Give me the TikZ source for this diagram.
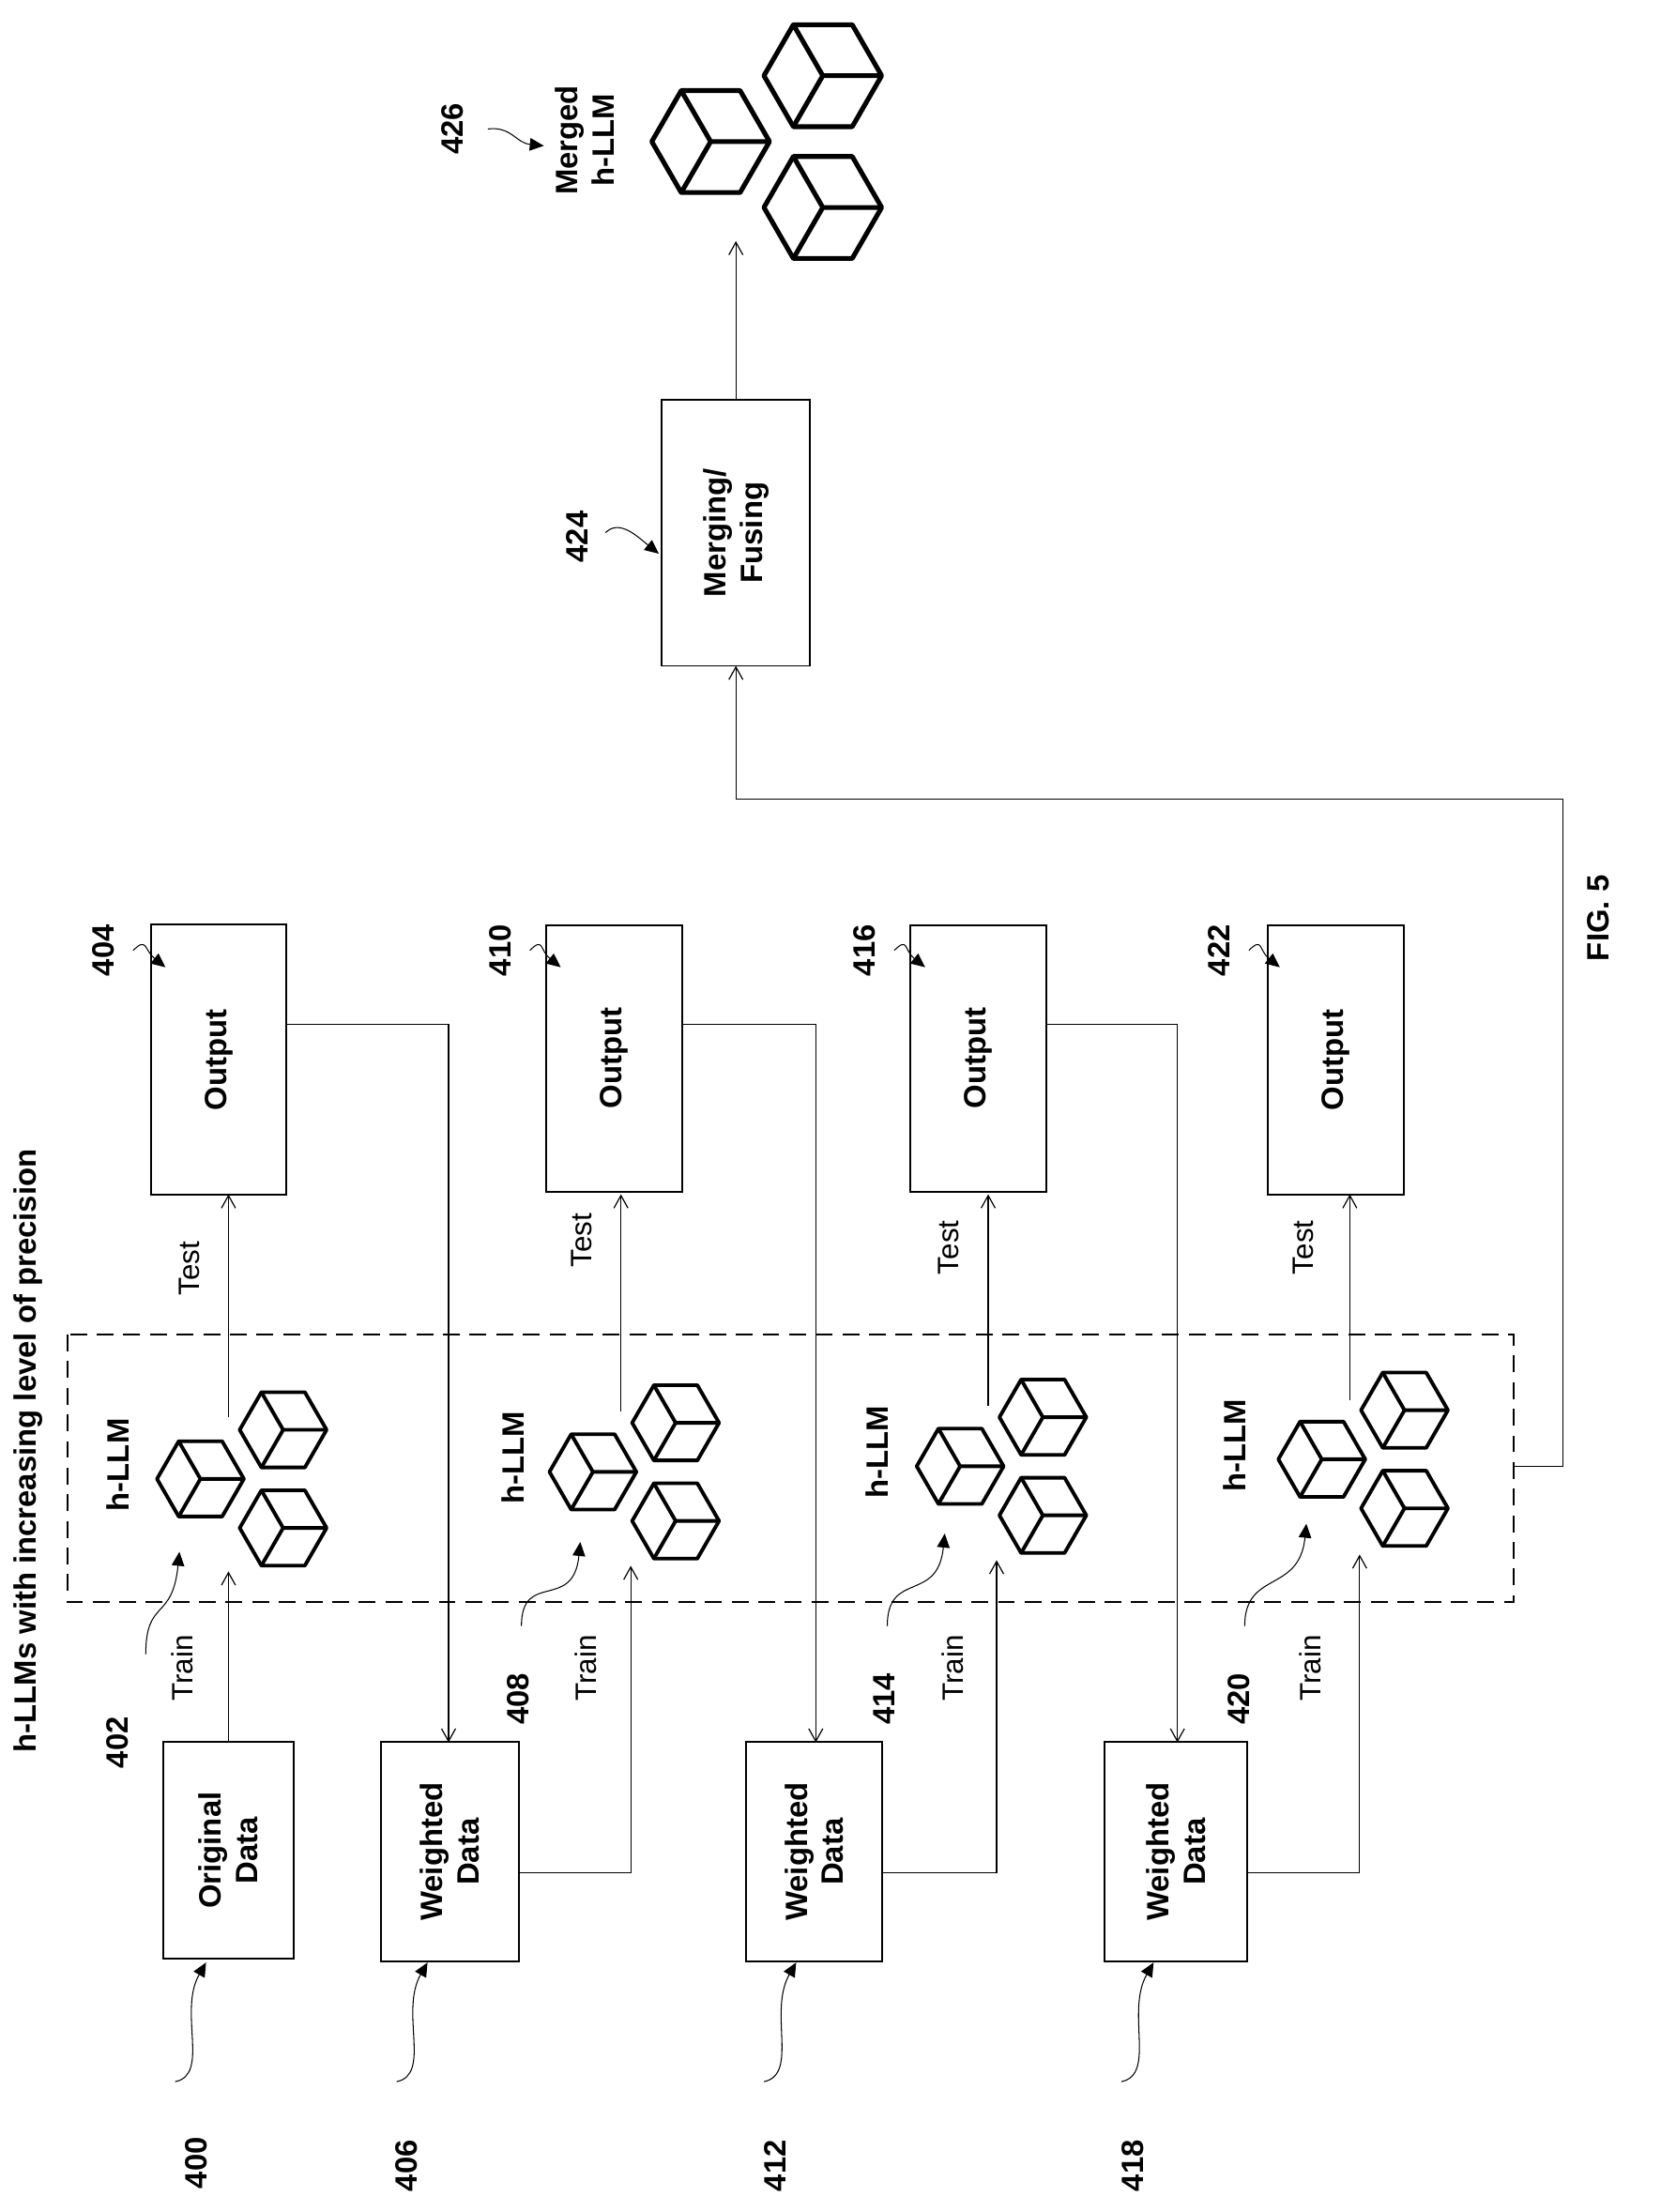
\documentclass[tikz,border=0pt]{standalone}
\usepackage{fontspec}
\setmainfont{Liberation Sans}
\usetikzlibrary{arrows.meta,positioning}
\tikzset{
  blk/.style={draw, line width=1.3pt, rotate=90, font=\fontsize{22}{26}\selectfont\bfseries, align=center, inner sep=0pt},
  num/.style={rotate=90, font=\fontsize{22}{26}\selectfont\bfseries},
  lbl/.style={rotate=90, font=\fontsize{21}{25}\selectfont},
  flow/.style={line width=0.8pt, -{Straight Barb[length=9pt,width=10pt]}},
  ref/.style={line width=0.7pt, -{Triangle[length=10pt,width=9pt]}},
  cube/.pic={
    \draw[line width=\pgfkeysvalueof{/tikz/cubelw}, line join=round] (0:1) -- (60:1) -- (120:1) -- (180:1) -- (240:1) -- (300:1) -- cycle;
    \draw[line width=\pgfkeysvalueof{/tikz/cubelw}] (0,0) -- (0:1) (0,0) -- (120:1) (0,0) -- (240:1);
  },
  cubelw/.initial=2.6pt
}
\begin{document}
\begin{tikzpicture}[x=1pt,y=-1pt]
\useasboundingbox (0,0) rectangle (1185,1578);
\node[num] (title) at (20,1035) {h-LLMs with increasing level of precision};
% dashed group
\draw[line width=1.5pt, dash pattern=on 12pt off 7pt] (48,952) rectangle (1080,1143);
% data boxes
\node[blk, minimum width=155pt, minimum height=93pt] (d0) at (163,1320) {Original\\Data};
\node[blk, minimum width=157pt, minimum height=98pt] (d1) at (321,1321) {Weighted\\Data};
\node[blk, minimum width=157pt, minimum height=97pt] (d2) at (581,1321) {Weighted\\Data};
\node[blk, minimum width=157pt, minimum height=102pt] (d3) at (839,1321) {Weighted\\Data};
% output boxes
\node[blk, minimum width=193pt, minimum height=97pt] (o0) at (156,756) {Output};
\node[blk, minimum width=190pt, minimum height=97pt] (o1) at (438,755) {Output};
\node[blk, minimum width=190pt, minimum height=97pt] (o2) at (698,755) {Output};
\node[blk, minimum width=192pt, minimum height=97pt] (o3) at (953,756) {Output};
\node[blk, minimum width=190pt, minimum height=106pt] (mf) at (525,380) {Merging/\\Fusing};
% model clusters
\foreach \cx/\cy/\hx in {163/1055/84, 443/1050/366, 705/1046/626, 963/1041/881}{
  \pic[scale=31] at (\cx-20,\cy) {cube};
  \pic[scale=31] at (\cx+39,\cy-35) {cube};
  \pic[scale=31] at (\cx+39,\cy+35) {cube};
  \node[num] at (\hx,\cy-10) {h-LLM};
}
\pic[scale=42, cubelw=3.4pt] at (507,101) {cube};
\pic[scale=42, cubelw=3.4pt] at (587,54) {cube};
\pic[scale=42, cubelw=3.4pt] at (587,148) {cube};
\coordinate (mg) at (525,172);
\node[num, align=center] (mlbl) at (417,100) {Merged\\h-LLM};
% train / test
\foreach \tr/\te/\ts/\nm in {130/135/905/0, 418/415/885/1, 680/677/890/2, 935/930/890/3}{
  \node[lbl] (tr\nm) at (\tr,1190) {Train};
  \node[lbl] (te\nm) at (\te,\ts) {Test};
}
\draw[flow] (163,1243) -- (163,1121);
\foreach \xx/\sy in {163/1011, 443/1007, 705/1003, 963/999}{
  \draw[flow] (\xx,\sy) -- (\xx,852);
}
% output to next data
\draw[flow] (205,731) -- (320,731) -- (320,1243);
\draw[flow] (487,731) -- (582,731) -- (582,1243);
\draw[flow] (747,731) -- (840,731) -- (840,1243);
% data to models
\draw[flow] (370,1336) -- (450,1336) -- (450,1117);
\draw[flow] (630,1336) -- (711,1336) -- (711,1113);
\draw[flow] (890,1336) -- (970,1336) -- (970,1109);
% group to merge
\draw[flow] (1080,1046) -- (1115,1046) -- (1115,570) -- (525,570) -- (525,475);
\draw[flow] (525,285) -- (mg);
% reference numbers
\foreach \tx/\ty/\t/\ax/\ay/\bx/\by in {
  140/1543/400/125/1485/147/1400,
  290/1545/406/283/1485/305/1400,
  553/1545/412/545/1485/568/1400,
  808/1545/418/800/1485/823/1400}{
  \node[num] (n\t) at (\tx,\ty) {\t};
  \draw[ref] (\ax,\ay) .. controls (\ax+25,\ay-5) and (\bx-20,\by+35) .. (\bx,\by);
}
\foreach \tx/\ty/\t/\ax/\ay/\bx/\by in {
  84/1243/402/104/1180/128/1107,
  370/1212/408/372/1160/414/1100,
  631/1212/414/633/1160/674/1094,
  884/1212/420/888/1160/932/1087}{
  \node[num] (n\t) at (\tx,\ty) {\t};
  \draw[ref] (\ax,\ay) .. controls (\ax,\ay-40) and (\bx-5,\by+50) .. (\bx,\by);
}
\foreach \tx/\ty/\t/\ax/\ay/\bx/\by in {
  74/678/404/95/678/118/690,
  357/678/410/378/678/400/690,
  617/678/416/638/678/660/690,
  870/678/422/891/678/913/690,
  412/383/424/432/380/470/395}{
  \node[num] (n\t) at (\tx,\ty) {\t};
  \draw[ref] (\ax,\ay) .. controls (\ax+10,\ay-10) and (\bx-15,\by-12) .. (\bx,\by);
}
\node[num] (n426) at (323,92) {426};
\draw[ref] (348,92) .. controls (365,90) and (368,102) .. (388,104);
\node[num] (fig) at (1140,655) {FIG. 5};
\end{tikzpicture}
\end{document}
